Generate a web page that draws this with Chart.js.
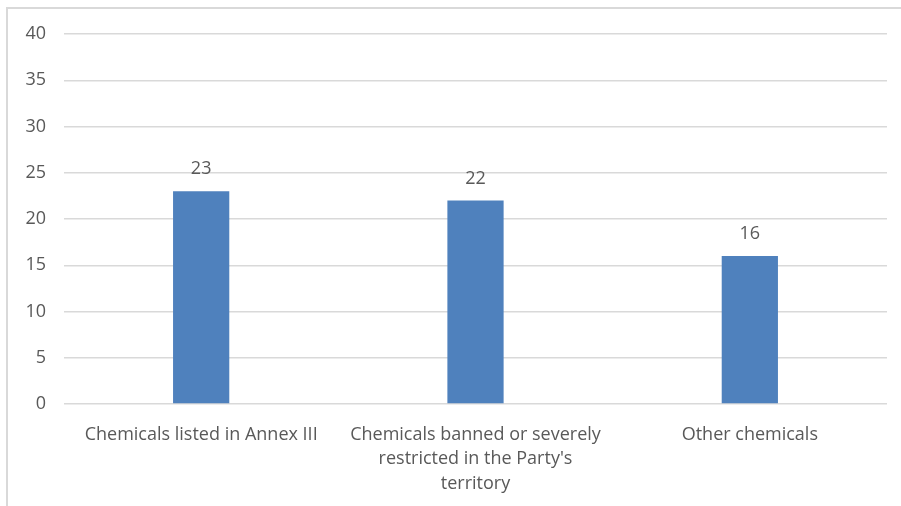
<!DOCTYPE html>
<html>
<head>
<meta charset="utf-8">
<script src="https://cdn.jsdelivr.net/npm/chart.js@4/dist/chart.umd.min.js"></script>
<style>
  html, body { margin: 0; padding: 0; background: #fff; }
  #wrap { width: 901px; height: 506px; position: relative; }
</style>
</head>
<body>
<div id="wrap"><canvas id="myChart" width="901" height="506"></canvas></div>
<script>
// chart data
const categories = [
    ["Chemicals listed in Annex III"],
    ["Chemicals banned or severely", "restricted in the Party's", "territory"],
    ["Other chemicals"]
];
const values = [23, 22, 16];
const yTicks = [0, 5, 10, 15, 20, 25, 30, 35, 40];

const textColor = "#595959";
const fontFamily = "'Open Sans', 'Noto Sans', sans-serif";

// frame lines top and left, like the cropped picture
const framePlugin = {
    id: "frame",
    beforeDraw: function (chart) {
        const ctx = chart.ctx;
        ctx.save();
        ctx.fillStyle = "#fff";
        ctx.fillRect(0, 0, chart.width, chart.height);
        ctx.strokeStyle = "#d9d9d9";
        ctx.lineWidth = 2;
        ctx.beginPath();
        ctx.moveTo(7, chart.height);
        ctx.lineTo(7, 8);
        ctx.lineTo(chart.width, 8);
        ctx.stroke();
        ctx.restore();
    }
};

// value labels above each bar
const valueLabels = {
    id: "valueLabels",
    afterDatasetsDraw: function (chart) {
        const ctx = chart.ctx;
        const meta = chart.getDatasetMeta(0);
        ctx.save();
        ctx.fillStyle = textColor;
        ctx.font = "18px " + fontFamily;
        ctx.textAlign = "center";
        ctx.textBaseline = "middle";
        meta.data.forEach(function (bar, i) {
            ctx.fillText(values[i], bar.x, bar.y - 22);
        });
        ctx.restore();
    }
};

new Chart(document.getElementById("myChart"), {
    type: "bar",
    data: {
        labels: categories,
        datasets: [{
            data: values,
            backgroundColor: "#4f81bd",
            barPercentage: 1,
            categoryPercentage: 0.205
        }]
    },
    options: {
        responsive: false,
        animation: false,
        layout: { padding: { top: 34, right: 14, left: 0, bottom: 0 } },
        plugins: {
            legend: { display: false },
            tooltip: { enabled: false }
        },
        scales: {
            x: {
                grid: { display: false },
                border: { display: false },
                ticks: {
                    color: textColor,
                    font: { family: fontFamily, size: 18, lineHeight: 1.38 },
                    maxRotation: 0,
                    padding: 10
                },
                afterFit: function (scale) { scale.height = 102; }
            },
            y: {
                min: 0,
                max: 40,
                afterBuildTicks: function (scale) {
                    scale.ticks = yTicks.map(function (v) { return { value: v }; });
                },
                grid: { color: "#d9d9d9", lineWidth: 1.5, drawTicks: false },
                border: { display: false },
                ticks: {
                    color: textColor,
                    font: { family: fontFamily, size: 18 },
                    padding: 18
                },
                afterFit: function (scale) { scale.width = 64; }
            }
        }
    },
    plugins: [framePlugin, valueLabels]
});
</script>
</body>
</html>
